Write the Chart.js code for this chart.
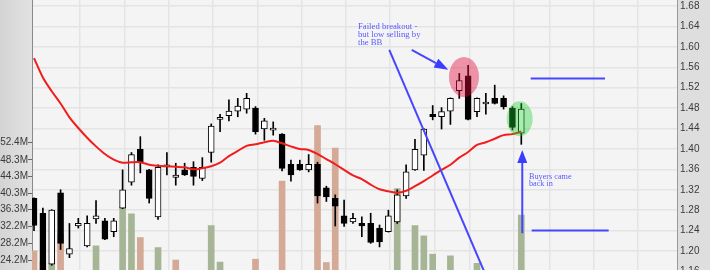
<!DOCTYPE html>
<html>
<head>
<meta charset="utf-8">
<script src="https://cdn.jsdelivr.net/npm/chart.js@4.4.1/dist/chart.umd.min.js"></script>
<style>
  body { margin: 0; background: #fff; }
  #wrap { width: 710px; height: 270px; }
</style>
</head>
<body>
<div id="wrap"><canvas id="candleChart"></canvas></div>
<script>
// daily candles, oldest first (price in $)
var openP  = [1.303, 1.274, 1.174, 1.314, 1.194, 1.249, 1.210, 1.263, 1.259, 1.238,
              1.284, 1.335, 1.399, 1.359, 1.267, 1.365, 1.344, 1.359, 1.364, 1.342,
              1.393, 1.458, 1.465, 1.474, 1.478, 1.480, 1.439, 1.437, 1.429, 1.370,
              1.370, 1.359, 1.370, 1.324, 1.303, 1.269, 1.257, 1.254, 1.254, 1.245,
              1.238, 1.257, 1.308, 1.359, 1.388, 1.468, 1.463, 1.474, 1.514, 1.543,
              1.473, 1.488, 1.499, 1.499, 1.480, 1.431];
var highP  = [1.304, 1.284, 1.281, 1.320, 1.254, 1.264, 1.269, 1.299, 1.264, 1.264,
              1.359, 1.393, 1.424, 1.360, 1.369, 1.393, 1.372, 1.372, 1.375, 1.383,
              1.449, 1.468, 1.496, 1.499, 1.509, 1.483, 1.460, 1.453, 1.430, 1.378,
              1.378, 1.389, 1.374, 1.327, 1.310, 1.300, 1.274, 1.267, 1.274, 1.251,
              1.280, 1.320, 1.369, 1.419, 1.440, 1.485, 1.481, 1.500, 1.548, 1.564,
              1.500, 1.509, 1.525, 1.504, 1.483, 1.489];
var lowP   = [1.240, 1.135, 1.172, 1.203, 1.187, 1.245, 1.208, 1.254, 1.222, 1.228,
              1.283, 1.329, 1.353, 1.294, 1.262, 1.349, 1.329, 1.348, 1.329, 1.338,
              1.374, 1.434, 1.455, 1.463, 1.470, 1.429, 1.417, 1.427, 1.357, 1.337,
              1.358, 1.355, 1.294, 1.297, 1.249, 1.248, 1.254, 1.228, 1.215, 1.208,
              1.237, 1.254, 1.303, 1.358, 1.358, 1.457, 1.439, 1.448, 1.499, 1.457,
              1.463, 1.468, 1.488, 1.478, 1.437, 1.409];
var closeP = [1.250, 1.145, 1.280, 1.215, 1.205, 1.254, 1.254, 1.269, 1.223, 1.259,
              1.320, 1.389, 1.375, 1.303, 1.364, 1.366, 1.349, 1.349, 1.346, 1.364,
              1.445, 1.459, 1.474, 1.484, 1.499, 1.434, 1.455, 1.438, 1.362, 1.349,
              1.359, 1.370, 1.308, 1.306, 1.288, 1.254, 1.264, 1.249, 1.217, 1.218,
              1.269, 1.310, 1.355, 1.399, 1.439, 1.463, 1.473, 1.499, 1.534, 1.458,
              1.499, 1.489, 1.489, 1.483, 1.442, 1.478];
// volume in millions
var volumeM = [26.4, 23.8, 23.4, 30.4, 15, 12, 18, 27.6, 14, 11,
               36.9, 35.3, 29.6, 19, 27.2, 13, 24.2, 16, 20, 17,
               32.5, 23.7, 15, 12, 19, 24.4, 14, 10, 43.2, 17,
               9, 12, 56.5, 23.6, 51.1, 18, 11, 13, 20, 16,
               19, 41.4, 20.5, 32.5, 30.0, 25.6, 15, 25.2, 21, 20,
               23.4, 14, 13, 12, 21, 35.0];
// moving average (red)
var maLine = [1.578, 1.540, 1.513, 1.489, 1.462, 1.441, 1.422, 1.405, 1.390, 1.379,
              1.373, 1.374, 1.374, 1.369, 1.367, 1.366, 1.365, 1.364, 1.360, 1.362,
              1.366, 1.373, 1.386, 1.396, 1.406, 1.409, 1.413, 1.416, 1.411, 1.405,
              1.400, 1.398, 1.390, 1.380, 1.370, 1.359, 1.348, 1.341, 1.330, 1.321,
              1.317, 1.314, 1.318, 1.327, 1.337, 1.348, 1.359, 1.369, 1.383, 1.394,
              1.408, 1.413, 1.420, 1.427, 1.429, 1.434];

var priceTicks = [1.68, 1.64, 1.60, 1.56, 1.52, 1.48, 1.44, 1.40, 1.36, 1.32, 1.28, 1.24, 1.20, 1.16];
var volumeTicks = [24.2, 28.2, 32.2, 36.3, 40.3, 44.3, 48.3, 52.4];
var weekLines = [5.2, 10.2, 15.2, 20.2, 25.2, 30.2, 35.2, 40.2, 45.2, 49.2, 54.2, 58.2, 63.2, 68.2];

var idx = openP.map(function (o, i) { return i; });
var bodies = idx.map(function (i) { return { x: i, y: [openP[i], closeP[i]] }; });
var wicks = idx.map(function (i) { return { x: i, y: [lowP[i], highP[i]] }; });
var vols = idx.map(function (i) { return { x: i, y: volumeM[i] }; });
var maPts = idx.map(function (i) { return { x: i, y: maLine[i] }; });
var bodyFill = idx.map(function (i) { return closeP[i] >= openP[i] ? '#ffffff' : '#000000'; });
var volFill = idx.map(function (i) {
    var up = i > 0 ? closeP[i] >= closeP[i - 1] : closeP[i] >= openP[i];
    return up ? '#a5b596' : '#d4a996';
});

var panels = {
    id: 'panels',
    beforeDraw: function (chart) {
        var c = chart.ctx, a = chart.chartArea;
        c.save();
        c.fillStyle = '#dedede';
        c.fillRect(0, 0, chart.width, chart.height);
        var g = c.createLinearGradient(0, 0, a.left, 0);
        g.addColorStop(0, '#d4d4d4');
        g.addColorStop(1, '#e2e2e2');
        c.fillStyle = g;
        c.fillRect(0, 0, a.left, chart.height);
        c.fillStyle = '#f4f4f4';
        c.fillRect(a.left, a.top, a.right - a.left, a.bottom - a.top);
        c.restore();
    }
};

function arrow(c, x1, y1, x2, y2, head, half) {
    var ang = Math.atan2(y2 - y1, x2 - x1);
    var bx = x2 - Math.cos(ang) * head, by = y2 - Math.sin(ang) * head;
    c.beginPath();
    c.moveTo(x1, y1);
    c.lineTo(bx, by);
    c.stroke();
    c.beginPath();
    c.moveTo(x2, y2);
    c.lineTo(bx + Math.sin(ang) * half, by - Math.cos(ang) * half);
    c.lineTo(bx - Math.sin(ang) * half, by + Math.cos(ang) * half);
    c.closePath();
    c.fill();
}

// hand drawn notes, placed in (candle index, price)
var notes = {
    id: 'notes',
    afterDatasetsDraw: function (chart) {
        var c = chart.ctx, a = chart.chartArea;
        var xs = chart.scales.x, ys = chart.scales.y;
        var X = function (v) { return xs.getPixelForValue(v); };
        var Y = function (v) { return ys.getPixelForValue(v); };
        c.save();
        c.beginPath();
        c.rect(a.left, a.top, a.right - a.left, a.bottom - a.top);
        c.clip();

        c.fillStyle = 'rgba(228,10,60,0.42)';
        c.beginPath();
        c.ellipse(X(48.53), Y(1.541), 15, 20, 0, 0, Math.PI * 2);
        c.fill();
        c.fillStyle = 'rgba(30,210,50,0.38)';
        c.beginPath();
        c.ellipse(X(54.82), Y(1.459), 13, 17.5, 0, 0, Math.PI * 2);
        c.fill();

        c.strokeStyle = '#4646ff';
        c.fillStyle = '#3c3cff';
        c.lineWidth = 2;
        c.beginPath();
        c.moveTo(X(40.10), Y(1.594));
        c.lineTo(X(51.30), Y(1.140));
        c.stroke();
        arrow(c, X(42.63), Y(1.594), X(46.76), Y(1.555), 14, 5);
        arrow(c, X(55.11), Y(1.235), X(55.11), Y(1.398), 13, 5);
        c.beginPath();
        c.moveTo(X(56.06), Y(1.538));
        c.lineTo(X(64.45), Y(1.538));
        c.moveTo(X(56.17), Y(1.240));
        c.lineTo(X(64.86), Y(1.240));
        c.stroke();

        c.fillStyle = '#5a5aff';
        c.textBaseline = 'middle';
        c.textAlign = 'left';
        c.font = '8.7px "Liberation Serif", "DejaVu Serif", serif';
        ['Failed breakout -', 'but low selling by', 'the BB'].forEach(function (t, k) {
            c.fillText(t, X(36.57), Y(1.640) + k * 8.1);
        });
        c.font = '8.2px "Liberation Serif", "DejaVu Serif", serif';
        ['Buyers came', 'back in'].forEach(function (t, k) {
            c.fillText(t, X(55.87), Y(1.346) + k * 7.6);
        });
        c.restore();
    }
};

Chart.defaults.font.family = '"Liberation Sans", Arial, sans-serif';
Chart.defaults.font.size = 10;
Chart.defaults.color = '#3a3a3a';

var ctx = document.getElementById('candleChart').getContext('2d');
var myChart = new Chart(ctx, {
    type: 'bar',
    data: {
        datasets: [
            {
                label: 'Volume',
                data: vols,
                yAxisID: 'yv',
                backgroundColor: volFill,
                barThickness: 6,
                grouped: false,
                order: 4
            },
            {
                label: 'Range',
                data: wicks,
                yAxisID: 'y',
                backgroundColor: '#000000',
                barThickness: 1,
                grouped: false,
                order: 3
            },
            {
                label: 'Body',
                data: bodies,
                yAxisID: 'y',
                backgroundColor: bodyFill,
                borderColor: '#000000',
                borderWidth: 1,
                borderSkipped: false,
                minBarLength: 2,
                barThickness: 6,
                grouped: false,
                order: 2
            },
            {
                type: 'line',
                label: 'MA',
                data: maPts,
                yAxisID: 'y',
                borderColor: '#f21c1c',
                borderWidth: 2,
                pointRadius: 0,
                tension: 0.3,
                order: 1
            }
        ]
    },
    options: {
        responsive: true,
        maintainAspectRatio: false,
        animation: false,
        layout: { padding: 0 },
        plugins: { legend: { display: false }, tooltip: { enabled: false } },
        scales: {
            x: {
                type: 'linear',
                min: -0.226,
                max: 72.574,
                offset: false,
                afterBuildTicks: function (s) { s.ticks = weekLines.map(function (v) { return { value: v }; }); },
                ticks: { display: false },
                grid: { color: '#e4e4e4', lineWidth: 1.5, drawTicks: false, offset: false },
                border: { display: false }
            },
            y: {
                position: 'right',
                min: 1.1628,
                max: 1.6918,
                afterBuildTicks: function (s) { s.ticks = priceTicks.map(function (v) { return { value: v }; }); },
                afterFit: function (s) { s.width = 33; s.paddingTop = 0; s.paddingBottom = 0; },
                ticks: { autoSkip: false, padding: 3, callback: function (v) { return v.toFixed(2); } },
                grid: { color: '#e4e4e4', lineWidth: 1.5, drawTicks: false },
                border: { display: true, color: '#9a9a9a', width: 1 }
            },
            yv: {
                position: 'left',
                min: 21.80,
                max: 86.71,
                afterBuildTicks: function (s) { s.ticks = volumeTicks.map(function (v) { return { value: v }; }); },
                afterFit: function (s) { s.width = 32; s.paddingTop = 0; s.paddingBottom = 0; },
                ticks: { autoSkip: false, padding: 0, callback: function (v) { return v.toFixed(1) + 'M'; } },
                grid: { drawOnChartArea: false, drawTicks: true, tickLength: 4, tickColor: '#666' },
                border: { display: true, color: '#8a8a8a', width: 1 }
            }
        }
    },
    plugins: [panels, notes]
});
</script>
</body>
</html>
